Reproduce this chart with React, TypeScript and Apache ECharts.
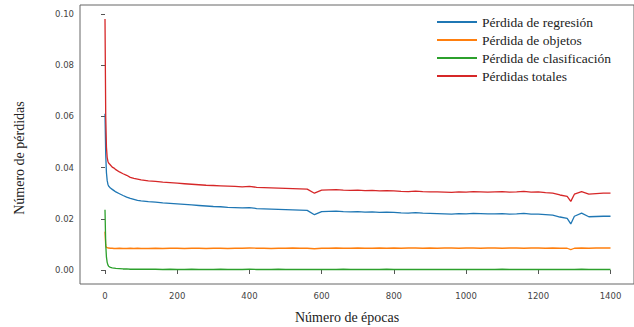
import React, { useEffect, useRef } from "react";
import * as echarts from "echarts";

const epochs = [
  0, 2, 4, 6, 8, 10, 15, 20, 25, 30, 40, 50, 60, 70, 80, 90, 100,
  120, 140, 160, 180, 200,
  220, 240, 260, 280, 300, 320, 340, 360, 380, 400,
  420, 440, 460, 480, 500, 520, 540, 560, 580, 600,
  620, 640, 660, 680, 700, 720, 740, 760, 780, 800,
  820, 840, 860, 880, 900, 920, 940, 960, 980, 1000,
  1020, 1040, 1060, 1080, 1100, 1120, 1140, 1160, 1180, 1200,
  1220, 1240, 1260, 1280,
  1290, 1300, 1320, 1340, 1360, 1380, 1400,
];

const regresion = [
  0.061, 0.045, 0.038, 0.035, 0.0335, 0.0328, 0.032, 0.0315, 0.031, 0.0305, 0.0298, 0.0291, 0.0285, 0.028, 0.0276, 0.0272, 0.027,
  0.0267, 0.0265, 0.0262, 0.026, 0.0258,
  0.0256, 0.0254, 0.0252, 0.025, 0.0248, 0.0247, 0.0245, 0.0244, 0.0243, 0.0244,
  0.024, 0.0239, 0.0238, 0.0237, 0.0236, 0.0235, 0.0234, 0.0233, 0.0216, 0.0228,
  0.0229, 0.023, 0.0228, 0.0227, 0.0228, 0.0226, 0.0227, 0.0225, 0.0226, 0.0225,
  0.0223, 0.0222, 0.0224, 0.0222, 0.0221, 0.022, 0.0219, 0.0218, 0.022, 0.0219,
  0.0221, 0.022, 0.0219, 0.0219, 0.022, 0.0218, 0.0219, 0.0221, 0.0218, 0.0218,
  0.0216, 0.0214, 0.0207, 0.0202,
  0.018, 0.021, 0.0222, 0.0208, 0.0209, 0.021, 0.021,
];

const objetos = [
  0.015, 0.0095, 0.0088, 0.0087, 0.0086, 0.0086, 0.0085, 0.0085, 0.0084, 0.0084, 0.0085, 0.0084, 0.0084, 0.0085, 0.0084, 0.0085, 0.0084,
  0.0084, 0.0085, 0.0084, 0.0085, 0.0085,
  0.0084, 0.0085, 0.0085, 0.0084, 0.0085, 0.0085, 0.0084, 0.0085, 0.0085, 0.0086,
  0.0085, 0.0085, 0.0084, 0.0085, 0.0085, 0.0086, 0.0085, 0.0085, 0.0083, 0.0085,
  0.0085, 0.0086, 0.0085, 0.0085, 0.0086, 0.0085, 0.0085, 0.0086, 0.0085, 0.0086,
  0.0085, 0.0086, 0.0086, 0.0085, 0.0086, 0.0085, 0.0086, 0.0086, 0.0085, 0.0086,
  0.0086, 0.0085, 0.0086, 0.0086, 0.0085, 0.0086, 0.0086, 0.0085, 0.0086, 0.0086,
  0.0085, 0.0086, 0.0085, 0.0085,
  0.008, 0.0085, 0.0086, 0.0085, 0.0086, 0.0086, 0.0086,
];

const clasificacion = [
  0.0235, 0.01, 0.005, 0.003, 0.002, 0.0015, 0.001, 0.0008, 0.0007, 0.0006, 0.0005, 0.0004, 0.0004, 0.0003, 0.0003, 0.0003, 0.0003,
  0.0003, 0.0003, 0.0002, 0.0003, 0.0002,
  0.0002, 0.0003, 0.0002, 0.0002, 0.0002, 0.0003, 0.0002, 0.0002, 0.0002, 0.0003,
  0.0002, 0.0002, 0.0002, 0.0003, 0.0002, 0.0002, 0.0002, 0.0002, 0.0002, 0.0002,
  0.0002, 0.0002, 0.0003, 0.0002, 0.0002, 0.0002, 0.0002, 0.0002, 0.0003, 0.0002,
  0.0002, 0.0002, 0.0002, 0.0002, 0.0002, 0.0002, 0.0002, 0.0002, 0.0002, 0.0002,
  0.0002, 0.0002, 0.0002, 0.0002, 0.0003, 0.0002, 0.0002, 0.0002, 0.0002, 0.0002,
  0.0002, 0.0002, 0.0002, 0.0002,
  0.0002, 0.0002, 0.0003, 0.0002, 0.0002, 0.0002, 0.0002,
];

const totales = [
  0.098, 0.06, 0.048, 0.044, 0.0425, 0.0418, 0.041, 0.0402, 0.0398, 0.0392, 0.0383, 0.0376, 0.037, 0.0362, 0.0358, 0.0355, 0.0352,
  0.0348, 0.0346, 0.0343, 0.0341, 0.0339,
  0.0337, 0.0335, 0.0333, 0.0331, 0.033, 0.0329, 0.0328, 0.0327, 0.0325, 0.0327,
  0.0323, 0.0322, 0.0321, 0.032, 0.0319, 0.0318, 0.0317, 0.0316, 0.03, 0.0312,
  0.0313, 0.0314, 0.0312, 0.0311, 0.0312, 0.031, 0.0311, 0.0309, 0.031, 0.0309,
  0.0307, 0.0306, 0.0308, 0.0306, 0.0305, 0.0305, 0.0304, 0.0303, 0.0305, 0.0304,
  0.0306, 0.0305, 0.0304, 0.0305, 0.0306, 0.0304, 0.0305, 0.0307, 0.0304, 0.0305,
  0.0302, 0.03, 0.0293, 0.0288,
  0.0268, 0.0296, 0.0306, 0.0296, 0.0298, 0.03, 0.03,
];

const seriesNames = [
  "Pérdida de regresión",
  "Pérdida de objetos",
  "Pérdida de clasificación",
  "Pérdidas totales",
];
const seriesValues = [regresion, objetos, clasificacion, totales];
const seriesColors = ["#1f77b4", "#ff7f0e", "#2ca02c", "#d62728"];

const xLabel = "Número de épocas";
const yLabel = "Número de pérdidas";

export default function App() {
  const ref = useRef<HTMLDivElement>(null);

  useEffect(() => {
    if (!ref.current) return;
    const chart = echarts.init(ref.current, undefined, { renderer: "svg" });
    const tickColor = "#555";
    const labelStyle = {
      color: "#444",
      fontSize: 8.5,
      fontFamily: "DejaVu Sans",
    };
    chart.setOption({
      animation: false,
      grid: [
        {
          left: 80,
          top: 5,
          width: 560,
          height: 279,
          show: true,
          borderColor: "#666",
          borderWidth: 1,
          backgroundColor: "transparent",
        },
        { left: 105, top: 14, width: 505.5, height: 256 },
      ],
      xAxis: [
        { gridIndex: 0, type: "value", min: 0, max: 1, show: false },
        {
          gridIndex: 1,
          type: "value",
          min: 0,
          max: 1400,
          interval: 200,
          offset: 14,
          axisLine: { show: false },
          axisTick: { show: true, length: 4, lineStyle: { color: tickColor } },
          splitLine: { show: false },
          axisLabel: { ...labelStyle, margin: 7, formatter: (v: number) => String(v) },
        },
      ],
      yAxis: [
        { gridIndex: 0, type: "value", min: 0, max: 1, show: false },
        {
          gridIndex: 1,
          type: "value",
          min: 0,
          max: 0.1,
          interval: 0.02,
          offset: 25,
          axisLine: { show: false },
          axisTick: { show: true, length: 4, lineStyle: { color: tickColor } },
          splitLine: { show: false },
          axisLabel: {
            ...labelStyle,
            margin: 6,
            formatter: (v: number) => v.toFixed(2),
          },
        },
      ],
      legend: {
        orient: "vertical",
        left: 432,
        top: 10,
        itemWidth: 40,
        itemHeight: 2,
        itemGap: 4,
        icon: "rect",
        data: seriesNames,
        textStyle: {
          fontFamily: "Liberation Serif",
          fontSize: 13.5,
          color: "#222",
          lineHeight: 13,
        },
      },
      series: seriesNames.map((name, i) => ({
        name,
        type: "line",
        xAxisIndex: 1,
        yAxisIndex: 1,
        data: epochs.map((e, j) => [e, seriesValues[i][j]]),
        showSymbol: false,
        symbol: "none",
        clip: false,
        lineStyle: { width: 1.3, color: seriesColors[i] },
        itemStyle: { color: seriesColors[i] },
      })),
      graphic: [
        {
          type: "text",
          left: 295,
          top: 310,
          style: {
            text: xLabel,
            fontFamily: "Liberation Serif",
            fontSize: 14,
            fill: "#222",
          },
        },
        {
          type: "text",
          x: 19,
          y: 158,
          rotation: Math.PI / 2,
          style: {
            text: yLabel,
            fontFamily: "Liberation Serif",
            fontSize: 14,
            fill: "#222",
            align: "center",
            verticalAlign: "middle",
          },
        },
      ],
    });
    return () => chart.dispose();
  }, []);

  return (
    <div
      ref={ref}
      style={{ position: "fixed", left: 0, top: 0, width: 634, height: 327, background: "#fff" }}
    />
  );
}
